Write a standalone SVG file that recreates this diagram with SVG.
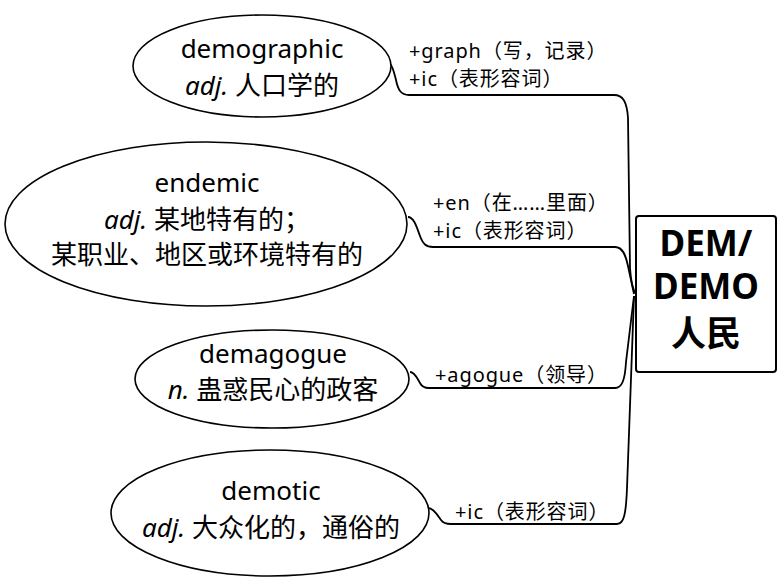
<svg xmlns="http://www.w3.org/2000/svg" width="778" height="577" viewBox="0 0 778 577">
<style>
.bg{fill:#fff}
.node ellipse{fill:#fff;stroke:#000;stroke-width:1.6}
.t{font-family:"Noto Sans","Noto Sans CJK SC",sans-serif;font-size:26px;fill:#000;text-anchor:middle}
.i{font-style:italic}
.lab{font-family:"Noto Sans","Noto Sans CJK SC",sans-serif;font-size:20px;letter-spacing:0.9px;fill:#000}
.conn path{fill:none;stroke:#000;stroke-width:1.8}
.root rect{fill:#fff;stroke:#000;stroke-width:2}
.rt{font-family:"Noto Sans","Noto Sans CJK SC",sans-serif;font-size:35px;font-weight:bold;fill:#000;text-anchor:middle}
</style>
<rect class="bg" x="0" y="0" width="778" height="577"/>
<g id="connectors" class="conn">
<path d="M386 62 C392 62,394 72,396 80 C398 90,401 95,409 95 L614 95 C623 95,627 102,628 118 L630 268 C631 284,633 290,636 294"/>
<path d="M408 217 C414 217,417 228,420 236 C423 244,426 247,433 247 L615 247 C623 247,626 256,628 266 L634 294"/>
<path d="M410 372 C415 372,418 380,420 383 C422 387,425 388,429 388 L615 388 C622 388,625 380,626 362 L634 296"/>
<path d="M428 508 C434 508,438 516,441 520 C443 523,446 524,451 524 L617 524 C624 524,626 514,627 488 L634 296"/>
</g>
<g id="root" class="root">
<rect x="636" y="216" width="140" height="156" rx="3"/>
<text class="rt" x="706" y="256">DEM/</text>
<text class="rt" x="706" y="299">DEMO</text>
<text class="rt" x="706" y="346">人民</text>
</g>
<g id="n1" class="node">
<ellipse cx="262" cy="66" rx="129" ry="51"/>
<text class="t" x="262" y="58">demographic</text>
<text class="t" x="262" y="95"><tspan class="i">adj.</tspan> 人口学的</text>
</g>
<g id="n2" class="node">
<ellipse cx="206" cy="224" rx="201" ry="82"/>
<text class="t" x="207" y="192">endemic</text>
<text class="t" x="207" y="229"><tspan class="i">adj.</tspan> 某地特有的；</text>
<text class="t" x="207" y="264">某职业、地区或环境特有的</text>
</g>
<g id="n3" class="node">
<ellipse cx="272" cy="379" rx="137" ry="49"/>
<text class="t" x="273" y="363">demagogue</text>
<text class="t" x="273" y="399"><tspan class="i">n.</tspan> 蛊惑民心的政客</text>
</g>
<g id="n4" class="node">
<ellipse cx="270" cy="513" rx="159" ry="63"/>
<text class="t" x="271" y="500">demotic</text>
<text class="t" x="271" y="537"><tspan class="i">adj.</tspan> 大众化的，通俗的</text>
</g>
<g id="labels">
<text class="lab" x="409" y="58">+graph（写，记录）</text>
<text class="lab" x="409" y="86">+ic（表形容词）</text>
<text class="lab" x="433" y="210">+en（在……里面）</text>
<text class="lab" x="433" y="238">+ic（表形容词）</text>
<text class="lab" x="435" y="382">+agogue（领导）</text>
<text class="lab" x="455" y="519">+ic（表形容词）</text>
</g>
</svg>
